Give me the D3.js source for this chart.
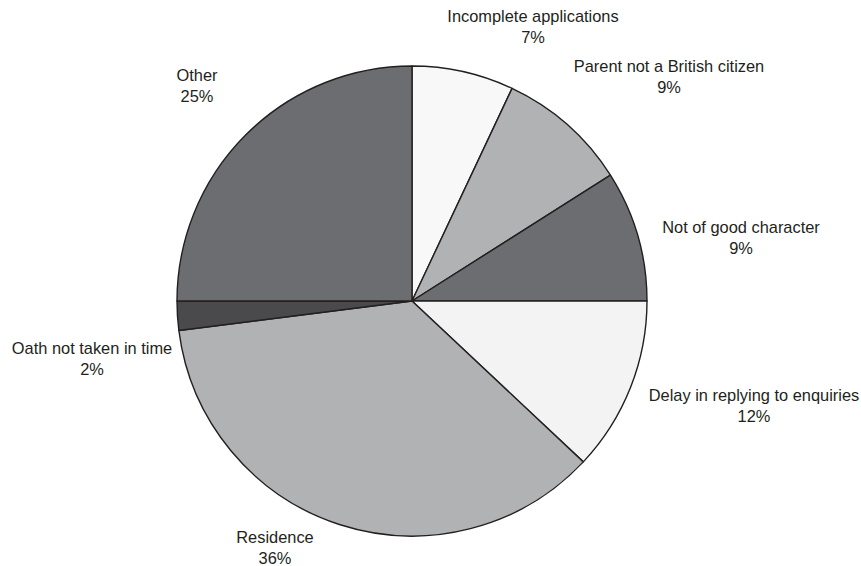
<!DOCTYPE html>
<html>
<head>
<meta charset="utf-8">
<script src="https://cdn.jsdelivr.net/npm/d3@7/dist/d3.min.js"></script>
<style>
  html, body { margin: 0; padding: 0; background: #fff; }
  svg { display: block; }
  text { font-family: "Liberation Sans", Arial, Helvetica, sans-serif; font-size: 16.4px; fill: #231f20; }
</style>
</head>
<body>
<svg id="chart" width="861" height="566"></svg>
<script>
// Reasons for refusal, clockwise from 12 o'clock
const categories = [
  "Incomplete applications",
  "Parent not a British citizen",
  "Not of good character",
  "Delay in replying to enquiries",
  "Residence",
  "Oath not taken in time",
  "Other"
];
const shares = [7, 9, 9, 12, 36, 2, 25];
const percentLabels = ["7%", "9%", "9%", "12%", "36%", "2%", "25%"];

// Slice fills
const fills = ["#f8f8f8", "#b1b2b4", "#6c6d70", "#f2f3f2", "#b1b2b4", "#4a4a4c", "#6c6d70"];

// Label anchors: centre x and first baseline for each two-line label
const labelAnchors = [
  [533, 22], [669, 72], [741, 233], [754, 401],
  [275, 543], [92, 354], [197, 81]
];
const lineGap = 21;

const cx = 412, cy = 301, radius = 235;

const svg = d3.select("#chart");
const g = svg.append("g").attr("transform", `translate(${cx},${cy})`);

const rows = categories.map((c, i) => ({ name: c, value: shares[i], label: percentLabels[i], i }));

const pie = d3.pie().sort(null).value(d => d.value);
const arc = d3.arc().innerRadius(0).outerRadius(radius);

g.selectAll("path.slice")
  .data(pie(rows))
  .join("path")
  .attr("class", "slice")
  .attr("d", arc)
  .attr("fill", d => fills[d.data.i])
  .attr("stroke", "#231f20")
  .attr("stroke-width", 1.4)
  .attr("stroke-linejoin", "round");

const labels = svg.selectAll("text.lbl")
  .data(rows)
  .join("text")
  .attr("class", "lbl")
  .attr("text-anchor", "middle")
  .attr("x", d => labelAnchors[d.i][0])
  .attr("y", d => labelAnchors[d.i][1]);

labels.append("tspan")
  .attr("x", d => labelAnchors[d.i][0])
  .text(d => d.name);
labels.append("tspan")
  .attr("x", d => labelAnchors[d.i][0])
  .attr("dy", lineGap)
  .text(d => d.label);
</script>
</body>
</html>
